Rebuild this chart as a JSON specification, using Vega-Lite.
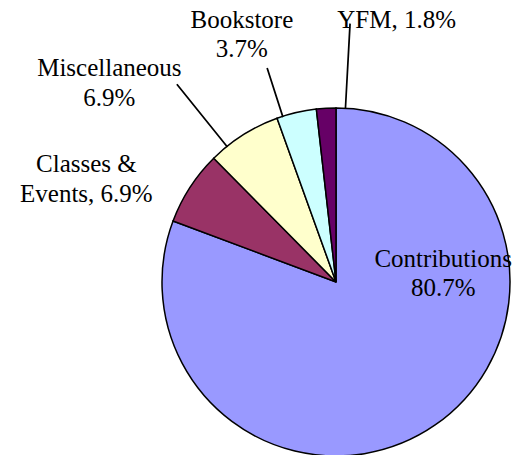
{
  "$schema": "https://vega.github.io/schema/vega-lite/v6.json",
  "autosize": "none",
  "width": 372,
  "height": 348,
  "padding": {"left": 150, "top": 108, "right": 0, "bottom": 0},
  "background": "white",
  "config": {"view": {"stroke": null}, "text": {"font": "Times New Roman"}},
  "data": {"values": [
    {"category": "Contributions", "value": 80.7, "rank": 1, "label": "Contributions\n80.7%"},
    {"category": "Classes & Events", "value": 6.9, "rank": 2, "label": "Classes &\nEvents, 6.9%"},
    {"category": "Miscellaneous", "value": 6.9, "rank": 3, "label": "Miscellaneous\n6.9%"},
    {"category": "Bookstore", "value": 3.7, "rank": 4, "label": "Bookstore\n3.7%"},
    {"category": "YFM", "value": 1.8, "rank": 5, "label": "YFM, 1.8%"}
  ]},
  "layer": [
    {
      "mark": {"type": "arc", "radius": 174, "stroke": "black", "strokeWidth": 1.5},
      "encoding": {
        "theta": {"field": "value", "type": "quantitative", "stack": true, "scale": {"domain": [0, 100]}},
        "order": {"field": "rank", "type": "quantitative"},
        "color": {"field": "category", "type": "nominal", "legend": null,
          "scale": {"domain": ["Contributions", "Classes & Events", "Miscellaneous", "Bookstore", "YFM"],
                    "range": ["#9999FF", "#993366", "#FFFFCC", "#CCFFFF", "#660066"]}}
      }
    },
    {
      "transform": [{"filter": "datum.category === 'YFM'"}],
      "mark": {"type": "arc", "radius": 258, "radius2": 174, "stroke": "black", "strokeWidth": 1.6, "fill": "black"},
      "encoding": {"theta": {"datum": 0.86, "type": "quantitative"}, "theta2": {"datum": 0.87}}
    },
    {
      "transform": [{"filter": "datum.category === 'Bookstore'"}],
      "mark": {"type": "arc", "radius": 224, "radius2": 174, "stroke": "black", "strokeWidth": 1.6, "fill": "black"},
      "encoding": {"theta": {"datum": 95.04, "type": "quantitative"}, "theta2": {"datum": 95.05}}
    },
    {
      "transform": [{"filter": "datum.category === 'Miscellaneous'"}],
      "mark": {"type": "arc", "radius": 253, "radius2": 174, "stroke": "black", "strokeWidth": 1.6, "fill": "black"},
      "encoding": {"theta": {"datum": 89.21, "type": "quantitative"}, "theta2": {"datum": 89.22}}
    },
    {
      "mark": {"type": "text", "radius": 60, "dx": 73, "dy": -64, "font": "Times New Roman", "fontSize": 25, "lineHeight": 29, "lineBreak": "\n", "align": "center", "baseline": "alphabetic", "fill": "black"},
      "encoding": {
        "theta": {"field": "value", "type": "quantitative", "stack": true},
        "order": {"field": "rank", "type": "quantitative"},
        "text": {"condition": {"test": "datum.category === 'Contributions'", "field": "label"}, "value": ""}
      }
    },
    {
      "mark": {"type": "text", "radius": 220, "dx": -65, "dy": 10, "font": "Times New Roman", "fontSize": 25, "lineHeight": 30, "lineBreak": "\n", "align": "center", "baseline": "alphabetic", "fill": "black"},
      "encoding": {
        "theta": {"field": "value", "type": "quantitative", "stack": true},
        "order": {"field": "rank", "type": "quantitative"},
        "text": {"condition": {"test": "datum.category === 'Classes & Events'", "field": "label"}, "value": ""}
      }
    },
    {
      "mark": {"type": "text", "radius": 245, "dx": -96, "dy": 1, "font": "Times New Roman", "fontSize": 25, "lineHeight": 30, "lineBreak": "\n", "align": "center", "baseline": "alphabetic", "fill": "black"},
      "encoding": {
        "theta": {"field": "value", "type": "quantitative", "stack": true},
        "order": {"field": "rank", "type": "quantitative"},
        "text": {"condition": {"test": "datum.category === 'Miscellaneous'", "field": "label"}, "value": ""}
      }
    },
    {
      "mark": {"type": "text", "radius": 260, "dx": -35, "dy": -1, "font": "Times New Roman", "fontSize": 25, "lineHeight": 29, "lineBreak": "\n", "align": "center", "baseline": "alphabetic", "fill": "black"},
      "encoding": {
        "theta": {"field": "value", "type": "quantitative", "stack": true},
        "order": {"field": "rank", "type": "quantitative"},
        "text": {"condition": {"test": "datum.category === 'Bookstore'", "field": "label"}, "value": ""}
      }
    },
    {
      "mark": {"type": "text", "radius": 255, "dx": 75, "dy": 1, "font": "Times New Roman", "fontSize": 25, "lineHeight": 29, "lineBreak": "\n", "align": "center", "baseline": "alphabetic", "fill": "black"},
      "encoding": {
        "theta": {"field": "value", "type": "quantitative", "stack": true},
        "order": {"field": "rank", "type": "quantitative"},
        "text": {"condition": {"test": "datum.category === 'YFM'", "field": "label"}, "value": ""}
      }
    }
  ]
}
